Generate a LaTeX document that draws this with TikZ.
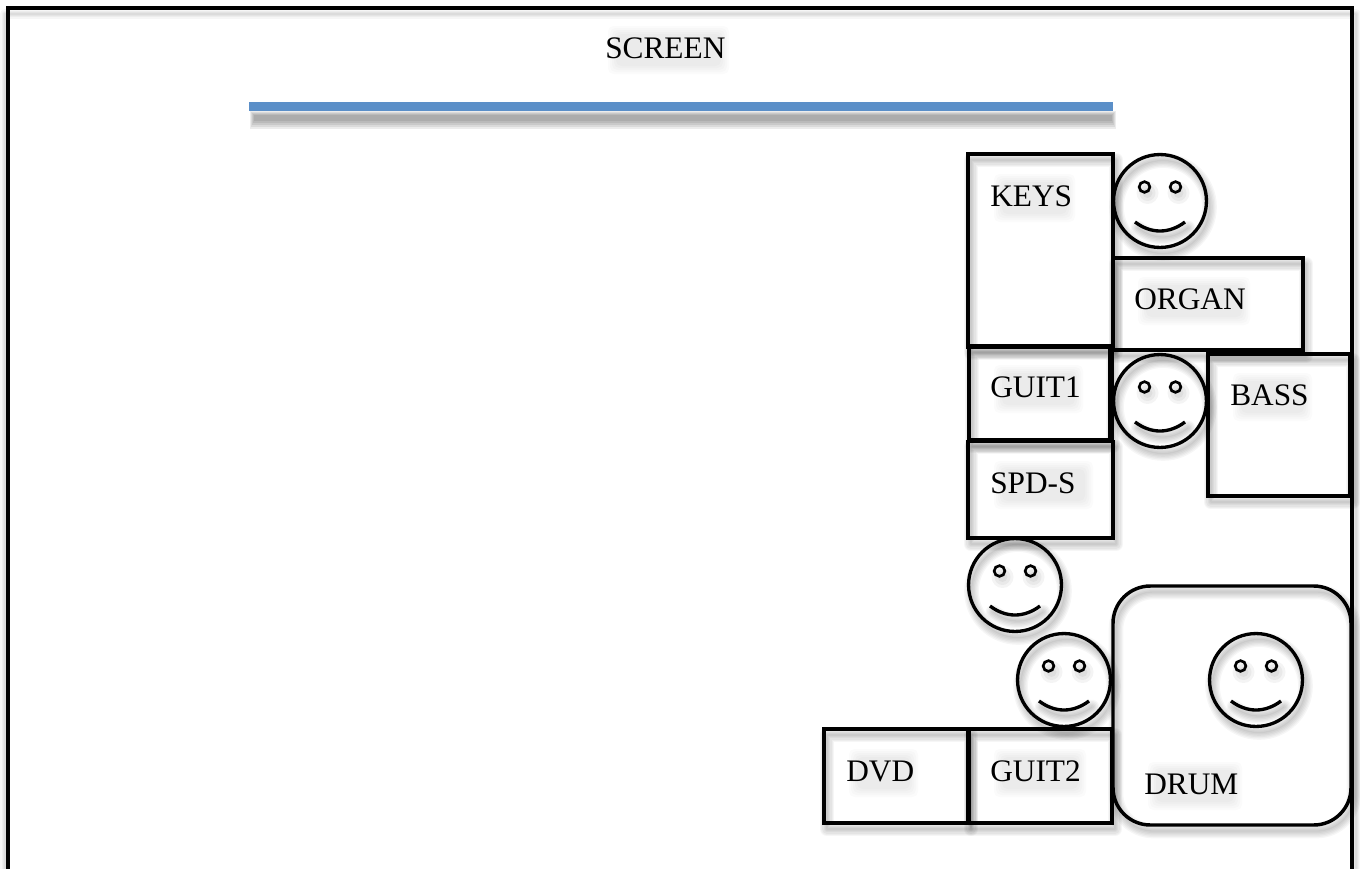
\documentclass[tikz,border=0pt]{standalone}
\usepackage{fontspec}
\setmainfont{Liberation Serif}
\definecolor{screenblue}{HTML}{5B8FC8}
\tikzset{
  x=0.75pt,y=-0.75pt,
  inst/.style={draw=black,line width=2.6pt},
  lbl/.style={font=\fontsize{23.5}{26}\selectfont,anchor=west,inner sep=0pt,text=black},
  sh/.style={draw=black,draw opacity=0.035,line cap=round,line join=round},
  smudge/.style={fill=black,fill opacity=0.014,rounded corners=4pt},
  smile/.style={draw=black,line width=2.5pt},
  eye/.style={draw=black,line width=2pt},
  mouth/.style={draw=black,line width=2.5pt},
}
\newcommand{\rectshadow}[4]{%
  \foreach \w in {1,3,5,7,9,11}{
    \draw[sh,line width=\w pt] (#1+3,#2+6) rectangle (#3+3,#4+6);}}
\newcommand{\faceshadow}[2]{%
  \foreach \w in {1,3,5,7,9,11}{
    \draw[sh,line width=\w pt] (#1+3,#2+6) circle[radius=46.5];
    \draw[sh,line width=\w pt] (#1-25+3,#2+21+6) .. controls (#1-9+3,#2+33+6) and (#1+9+3,#2+33+6) .. (#1+25+3,#2+21+6);}
  \foreach \s in {-15.5,15.5}{\foreach \r in {5,8,11}{
    \fill[black,opacity=0.045] (#1+\s+3,#2-8) circle[radius=\r];}}}
\newcommand{\textshadow}[4]{%
  \foreach \d in {0,2,4,6,8}{
    \fill[smudge] (#1+\d+3,#2+\d-10) rectangle (#3-\d+3,#4-\d+14);}}
\newcommand{\face}[3]{%
  \node[smile,circle,minimum size=69.7pt,inner sep=0pt] (#1) at (#2,#3) {};
  \node[eye,circle,minimum size=8pt,inner sep=0pt] (#1l) at (#2-15.5,#3-14) {};
  \node[eye,circle,minimum size=8pt,inner sep=0pt] (#1r) at (#2+15.5,#3-14) {};
  \draw[mouth] (#2-25,#3+21) .. controls (#2-9,#3+33) and (#2+9,#3+33) .. (#2+25,#3+21);
}
\begin{document}
\begin{tikzpicture}
\useasboundingbox (0,0) rectangle (1360,868);
\fill[white] (0,0) rectangle (1360,868);
% shadow of the frame
\foreach \w in {1,3,5,7}{
  \draw[sh,line width=\w pt] (5,900) -- (5,14) -- (1356,14) -- (1356,900);}
% shadow of the screen
\foreach \d in {0,2,4,6,8}{
  \fill[black,opacity=0.075] (250+\d/2,111+\d/2) rectangle (1116-\d/2,129-\d);}
% shadows of the boxes
\rectshadow{968}{154}{1113}{347}
\rectshadow{1113}{258}{1303}{350}
\rectshadow{969}{346}{1110}{440}
\rectshadow{1208}{354}{1350}{496}
\rectshadow{968}{441}{1113}{538}
\rectshadow{824}{729}{968}{823}
\rectshadow{968}{729}{1112}{823}
\foreach \w in {1,3,5,7,9,11}{
  \draw[sh,line width=\w pt,rounded corners=28pt] (1116,592) rectangle (1354,831);}
\faceshadow{1160}{201}
\faceshadow{1160}{401}
\faceshadow{1015}{585}
\faceshadow{1064}{680}
\faceshadow{1256}{680}
% shadows of the labels
\textshadow{605}{36}{726}{60}
\textshadow{991}{184}{1072}{208}
\textshadow{1135}{287}{1247}{311}
\textshadow{991}{375}{1080}{399}
\textshadow{1230}{383}{1309}{407}
\textshadow{991}{471}{1090}{495}
\textshadow{846}{759}{915}{783}
\textshadow{991}{759}{1083}{783}
\textshadow{1145}{772}{1239}{796}
% frame: top and sides only
\draw[line width=3pt,black] (8,880) -- (8,8) -- (1352,8) -- (1352,880);
% screen
\fill[screenblue] (249,102) rectangle (1113,111);
\node[lbl] (screen) at (605,48) {SCREEN};
% boxes
\draw[inst] (968,154) rectangle (1113,347);
\draw[inst] (1113,258) rectangle (1303,350);
\draw[inst] (969,346) rectangle (1110,440);
\draw[inst] (1112,350) -- (1112,440);
\draw[inst] (1208,354) rectangle (1350,496);
\draw[inst] (968,441.5) rectangle (1113,538);
\draw[inst] (824,729) rectangle (968,823);
\draw[inst] (968,729) rectangle (1112,823);
\draw[inst,line width=1.6pt] (969.5,729) -- (969.5,823);
\draw[inst,rounded corners=28pt] (1113,586) rectangle (1351,825);
% faces
\face{f1}{1160}{201}
\face{f2}{1160}{401}
\face{f3}{1015}{585}
\face{f4}{1064}{680}
\face{f5}{1256}{680}
% labels
\node[lbl] (keys) at (990,196) {KEYS};
\node[lbl] (organ) at (1134,299) {ORGAN};
\node[lbl] (guit1) at (990,387) {GUIT1};
\node[lbl] (bass) at (1230,395) {BASS};
\node[lbl] (spds) at (990,483) {SPD-S};
\node[lbl] (dvd) at (846,771) {DVD};
\node[lbl] (guit2) at (990,771) {GUIT2};
\node[lbl] (drum) at (1144,784) {DRUM};
\end{tikzpicture}
\end{document}
